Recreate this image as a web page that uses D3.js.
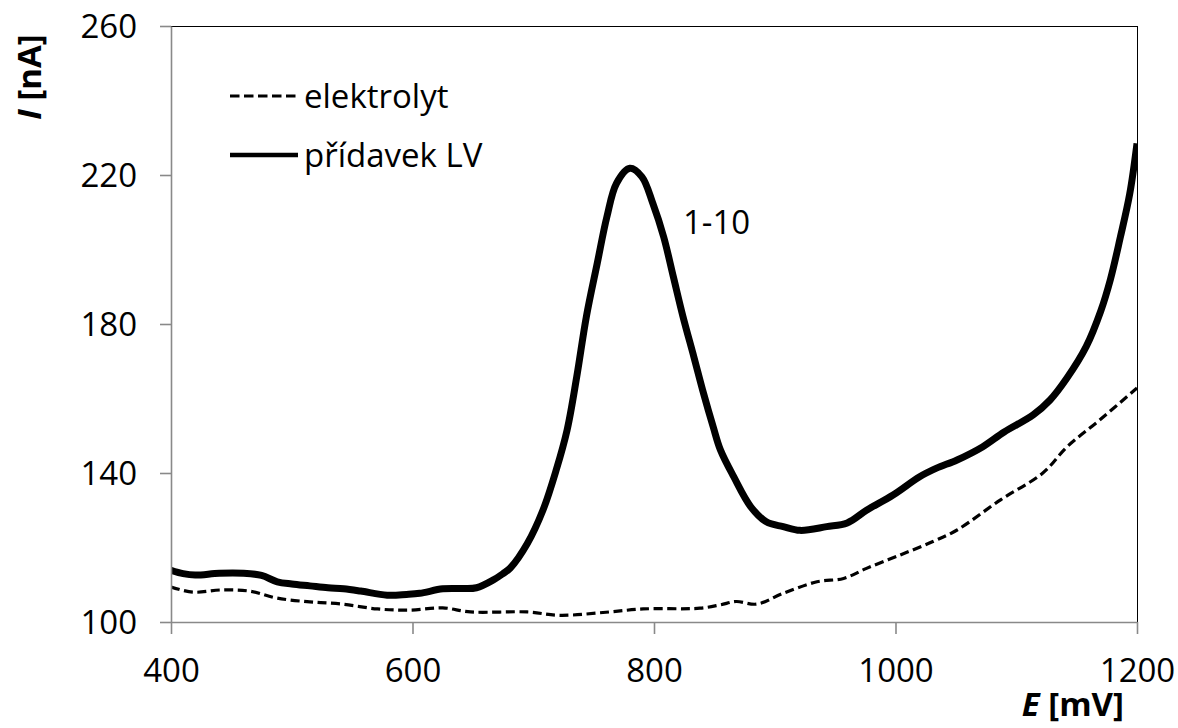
<!DOCTYPE html>
<html>
<head>
<meta charset="utf-8">
<script src="https://cdn.jsdelivr.net/npm/d3@7"></script>
<style>
  html, body { margin: 0; padding: 0; background: #fff; }
  svg { display: block; }
  text { font-family: "Open Sans", "Noto Sans", sans-serif; fill: #000; }
</style>
</head>
<body>
<svg id="chart" width="1178" height="728"></svg>
<script>
// ---- data ----
const xTicks = [400, 600, 800, 1000, 1200];
const yTicks = [100, 140, 180, 220, 260];

const lvE = [400, 410, 420, 440, 460, 475, 488, 500, 515, 530, 543, 557, 579, 595, 606, 625, 640, 653, 667, 675, 681, 695, 708, 719, 728, 736, 744, 753, 761, 769, 780, 790, 799, 808, 816, 824, 833, 841, 849, 855, 866, 880, 893, 907, 921, 943, 960, 976, 998, 1020, 1034, 1051, 1072, 1090, 1114, 1128, 1142, 1158, 1170, 1178, 1186, 1194, 1200];
const lvI = [113.9, 113.0, 112.6, 113.1, 113.1, 112.5, 110.8, 110.2, 109.7, 109.2, 108.9, 108.3, 107.2, 107.4, 107.7, 108.9, 109.0, 109.2, 111.3, 113.0, 114.5, 121.0, 130.0, 140.8, 151.5, 165.8, 182.0, 196.3, 208.8, 217.8, 221.8, 219.5, 212.4, 203.4, 192.7, 182.0, 171.2, 161.4, 152.4, 146.2, 139.0, 131.0, 126.9, 125.6, 124.6, 125.6, 126.6, 130.0, 134.1, 139.0, 141.3, 143.5, 147.0, 151.0, 155.6, 159.6, 165.5, 174.0, 183.5, 192.0, 203.0, 215.0, 228.5];

const elE = [400, 418, 441, 465, 488, 515, 542, 571, 598, 625, 648, 695, 722, 763, 791, 838, 855, 868, 885, 907, 935, 957, 976, 1004, 1031, 1051, 1087, 1122, 1142, 1169, 1200];
const elI = [109.4, 108.0, 108.6, 108.3, 106.4, 105.4, 104.8, 103.5, 103.2, 103.8, 102.7, 102.7, 101.8, 102.7, 103.5, 103.7, 104.6, 105.5, 104.8, 107.7, 110.8, 111.7, 114.4, 118.0, 121.6, 124.7, 132.8, 140.0, 147.0, 154.2, 162.8];

const seriesNames = ["elektrolyt", "přídavek LV"];
const peakLabel = "1-10";
const xTitleItalic = "E", xTitleRest = " [mV]";
const yTitleItalic = "I", yTitleRest = " [nA]";

// ---- layout ----
const svg = d3.select("#chart");
const L = 171, R = 1137, T = 26, B = 622;
const x = d3.scaleLinear().domain([400, 1200]).range([L, R]);
const y = d3.scaleLinear().domain([100, 260]).range([B, T]);
const FS = 33;

svg.append("rect").attr("width", 1178).attr("height", 728).attr("fill", "#fff");

// plot border (top/right black)
svg.append("line").attr("x1", L).attr("x2", R + 1).attr("y1", T + 0.5).attr("y2", T + 0.5)
  .attr("stroke", "#000").attr("stroke-width", 1);
svg.append("line").attr("x1", R + 0.5).attr("x2", R + 0.5).attr("y1", T).attr("y2", B)
  .attr("stroke", "#000").attr("stroke-width", 1);

svg.append("clipPath").attr("id", "clip")
  .append("rect").attr("x", L).attr("y", T).attr("width", R - L + 1).attr("height", B - T);

// lines
const toPts = (xs, ys) => xs.map((v, i) => [v, ys[i]]);
const line = d3.line().x(d => x(d[0])).y(d => y(d[1])).curve(d3.curveCatmullRom.alpha(0.5));

const g = svg.append("g").attr("clip-path", "url(#clip)");
g.append("path").attr("d", line(toPts(elE, elI)))
  .attr("fill", "none").attr("stroke", "#000").attr("stroke-width", 3.2)
  .attr("stroke-dasharray", "9,4.5");
g.append("path").attr("d", line(toPts(lvE, lvI)))
  .attr("fill", "none").attr("stroke", "#000").attr("stroke-width", 7)
  .attr("stroke-linejoin", "round");

// axes
const axisColor = "#898989";
const xAxis = svg.append("g").attr("transform", `translate(0,${B})`)
  .call(d3.axisBottom(x).tickValues(xTicks).tickSize(12).tickSizeOuter(0).tickFormat(d3.format("d")));
const yAxis = svg.append("g").attr("transform", `translate(${L},0)`)
  .call(d3.axisLeft(y).tickValues(yTicks).tickSize(11).tickSizeOuter(0).tickFormat(d3.format("d")));
[xAxis, yAxis].forEach(a => {
  a.select(".domain").attr("stroke", axisColor).attr("stroke-width", 1.6);
  a.selectAll(".tick line").attr("stroke", axisColor).attr("stroke-width", 1.6);
  a.selectAll(".tick text").attr("font-size", FS).attr("font-family", "'Open Sans', sans-serif").attr("fill", "#000");
});
xAxis.selectAll(".tick text").attr("dy", null).attr("y", 60);
yAxis.selectAll(".tick text").attr("x", -34).attr("dy", "0.35em");

// axis titles
const xt = svg.append("text").attr("x", 1124).attr("y", 716).attr("text-anchor", "end")
  .attr("font-size", FS).attr("font-weight", "bold");
xt.append("tspan").attr("font-style", "italic").text(xTitleItalic);
xt.append("tspan").text(xTitleRest);

const yt = svg.append("text").attr("transform", "translate(41,77) rotate(-90)")
  .attr("text-anchor", "middle").attr("font-size", FS).attr("font-weight", "bold");
yt.append("tspan").attr("font-style", "italic").text(yTitleItalic);
yt.append("tspan").text(yTitleRest);

// legend
const legend = svg.append("g");
const legY = [96, 155];
legend.append("line").attr("x1", 230).attr("x2", 298).attr("y1", legY[0]).attr("y2", legY[0])
  .attr("stroke", "#000").attr("stroke-width", 3.2).attr("stroke-dasharray", "9.5,4.5");
legend.append("line").attr("x1", 230).attr("x2", 298).attr("y1", legY[1]).attr("y2", legY[1])
  .attr("stroke", "#000").attr("stroke-width", 4.5);
seriesNames.forEach((n, i) => {
  legend.append("text").attr("x", 304).attr("y", legY[i] + 12).attr("font-size", FS).text(n);
});

// peak annotation
svg.append("text").attr("x", 683).attr("y", 234).attr("font-size", FS).text(peakLabel);
</script>
</body>
</html>
